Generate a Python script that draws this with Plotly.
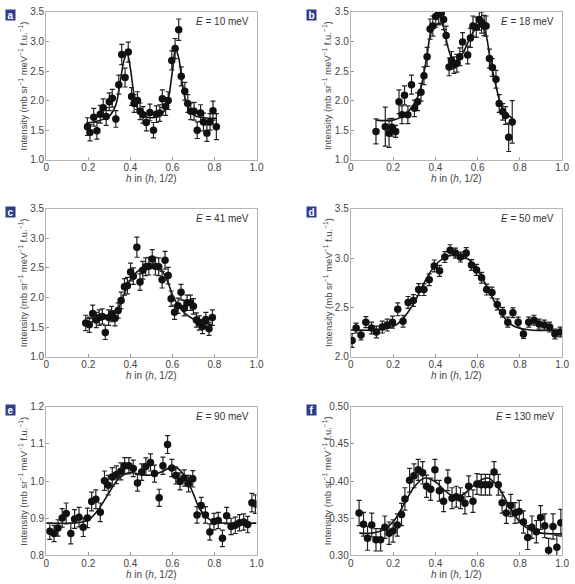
import plotly.graph_objects as go

# ---------------- data ----------------
a_x = [0.196,0.208,0.226,0.241,0.257,0.271,0.285,0.300,0.314,0.331,0.345,0.359,0.375,0.390,0.406,0.418,0.434,0.446,0.460,0.476,0.493,0.510,0.524,0.540,0.552,0.568,0.580,0.597,0.613,0.630,0.642,0.659,0.673,0.687,0.703,0.718,0.734,0.748,0.764,0.779,0.793,0.809]
a_y = [1.56,1.46,1.72,1.49,1.77,1.88,1.73,1.98,2.04,1.69,2.27,2.78,2.39,2.82,2.07,1.95,2.00,1.82,1.76,1.63,1.80,1.50,1.77,1.79,2.03,1.90,2.00,2.68,2.88,3.20,2.41,2.16,1.95,1.82,1.82,1.50,1.79,1.64,1.45,1.64,1.83,1.56]
a_e = [0.15,0.14,0.15,0.14,0.15,0.15,0.15,0.15,0.15,0.14,0.16,0.17,0.16,0.17,0.15,0.15,0.15,0.14,0.14,0.14,0.14,0.13,0.14,0.14,0.15,0.15,0.15,0.16,0.17,0.18,0.16,0.15,0.15,0.14,0.15,0.14,0.14,0.15,0.14,0.14,0.16,0.22]
a_fx = [0.19,0.25,0.30,0.33,0.35,0.37,0.385,0.40,0.42,0.44,0.47,0.50,0.53,0.56,0.58,0.60,0.615,0.63,0.65,0.67,0.70,0.75,0.81]
a_fy = [1.62,1.66,1.74,1.92,2.28,2.68,2.80,2.55,2.05,1.82,1.73,1.71,1.73,1.82,2.02,2.50,2.87,2.72,2.22,1.92,1.76,1.71,1.70]

b_x = [0.119,0.163,0.181,0.194,0.212,0.228,0.242,0.254,0.270,0.287,0.301,0.316,0.332,0.346,0.361,0.375,0.388,0.402,0.416,0.428,0.439,0.451,0.465,0.476,0.488,0.502,0.516,0.529,0.553,0.566,0.578,0.594,0.608,0.619,0.631,0.640,0.656,0.670,0.687,0.702,0.719,0.732,0.747,0.764]
b_y = [1.48,1.56,1.45,1.55,1.48,1.98,1.76,2.09,1.76,2.27,1.87,1.98,2.14,2.42,2.74,3.21,3.26,3.42,3.46,3.48,3.37,3.10,2.57,2.68,2.60,2.63,2.74,2.99,2.77,3.06,3.26,3.24,3.37,3.32,3.27,3.26,2.71,2.56,2.36,1.95,1.81,1.75,1.38,1.64]
b_e = [0.21,0.33,0.24,0.15,0.10,0.20,0.15,0.16,0.15,0.16,0.14,0.15,0.15,0.15,0.16,0.17,0.17,0.18,0.18,0.18,0.17,0.16,0.15,0.15,0.14,0.15,0.15,0.16,0.15,0.16,0.17,0.17,0.18,0.18,0.17,0.17,0.16,0.15,0.15,0.15,0.14,0.15,0.24,0.36]
b_fx = [0.12,0.20,0.25,0.30,0.33,0.36,0.38,0.41,0.43,0.46,0.48,0.50,0.53,0.57,0.60,0.63,0.66,0.69,0.72,0.765]
b_fy = [1.67,1.67,1.75,1.95,2.20,2.75,3.15,3.30,3.30,2.90,2.70,2.65,2.80,3.10,3.25,3.20,2.70,2.20,1.85,1.70]

c_x = [0.188,0.205,0.221,0.238,0.252,0.267,0.281,0.297,0.311,0.327,0.342,0.356,0.372,0.386,0.401,0.414,0.431,0.446,0.459,0.473,0.488,0.504,0.519,0.535,0.551,0.565,0.580,0.594,0.610,0.627,0.641,0.656,0.670,0.686,0.700,0.714,0.728,0.743,0.759,0.774,0.790]
c_y = [1.57,1.54,1.73,1.62,1.66,1.68,1.41,1.66,1.72,1.65,1.78,1.95,2.18,2.20,2.43,2.36,2.85,2.26,2.46,2.52,2.53,2.65,2.53,2.52,2.30,2.63,2.37,1.98,1.75,1.86,2.09,1.82,1.91,1.91,1.85,1.62,1.57,1.51,1.63,1.47,1.66]
c_e = [0.13,0.13,0.14,0.13,0.13,0.13,0.12,0.13,0.13,0.13,0.13,0.14,0.14,0.14,0.15,0.14,0.17,0.14,0.15,0.15,0.15,0.16,0.15,0.15,0.14,0.15,0.14,0.13,0.12,0.13,0.13,0.13,0.13,0.13,0.13,0.12,0.12,0.12,0.12,0.11,0.13]
c_fx = [0.19,0.25,0.31,0.34,0.37,0.40,0.43,0.46,0.50,0.54,0.57,0.60,0.63,0.67,0.72,0.79]
c_fy = [1.65,1.65,1.68,1.80,2.05,2.30,2.43,2.50,2.52,2.49,2.33,2.05,1.85,1.70,1.60,1.54]

d_x = [0.006,0.025,0.048,0.071,0.098,0.121,0.149,0.172,0.197,0.222,0.247,0.271,0.296,0.321,0.346,0.371,0.395,0.420,0.445,0.470,0.495,0.519,0.546,0.571,0.595,0.619,0.643,0.668,0.693,0.718,0.743,0.767,0.792,0.817,0.842,0.867,0.891,0.916,0.941,0.966,0.991]
d_y = [2.165,2.29,2.22,2.35,2.29,2.25,2.30,2.32,2.35,2.48,2.36,2.55,2.57,2.68,2.68,2.78,2.92,2.87,3.01,3.08,3.05,3.01,3.05,2.93,2.88,2.80,2.68,2.65,2.53,2.45,2.35,2.445,2.35,2.23,2.35,2.37,2.33,2.32,2.30,2.23,2.25]
d_e = [0.07,0.05,0.05,0.055,0.06,0.06,0.06,0.06,0.06,0.065,0.06,0.06,0.06,0.06,0.06,0.06,0.06,0.055,0.055,0.055,0.05,0.05,0.055,0.055,0.055,0.055,0.055,0.055,0.055,0.05,0.05,0.05,0.05,0.045,0.05,0.05,0.05,0.05,0.05,0.05,0.05]
d_fx = [0.0,0.10,0.18,0.22,0.26,0.30,0.34,0.38,0.42,0.46,0.50,0.54,0.58,0.62,0.66,0.70,0.74,0.78,0.85,0.92,1.0]
d_fy = [2.27,2.27,2.29,2.33,2.42,2.55,2.72,2.87,2.97,3.02,3.03,3.01,2.94,2.81,2.64,2.48,2.36,2.30,2.27,2.265,2.265]

e_x = [0.017,0.037,0.056,0.076,0.095,0.117,0.135,0.156,0.176,0.196,0.216,0.236,0.257,0.277,0.295,0.314,0.333,0.355,0.373,0.393,0.414,0.434,0.454,0.474,0.496,0.515,0.537,0.555,0.577,0.597,0.616,0.636,0.656,0.677,0.697,0.717,0.737,0.757,0.778,0.798,0.818,0.838,0.858,0.879,0.899,0.919,0.939,0.958,0.978,0.995]
e_y = [0.865,0.859,0.874,0.901,0.913,0.859,0.898,0.903,0.876,0.901,0.945,0.951,0.916,1.001,0.989,1.011,1.017,1.026,1.041,1.041,1.034,0.995,1.024,1.039,1.050,1.020,0.955,1.041,1.098,1.035,1.015,0.999,1.008,0.993,1.006,0.909,0.934,0.909,0.863,0.891,0.894,0.846,0.907,0.878,0.881,0.888,0.890,0.883,0.942,0.938]
e_e = [0.022,0.022,0.022,0.025,0.028,0.028,0.025,0.026,0.025,0.026,0.025,0.025,0.025,0.026,0.026,0.025,0.024,0.023,0.022,0.022,0.022,0.022,0.022,0.023,0.023,0.023,0.023,0.023,0.024,0.023,0.023,0.023,0.022,0.022,0.022,0.022,0.022,0.022,0.022,0.022,0.022,0.022,0.022,0.022,0.022,0.022,0.022,0.022,0.025,0.025]
e_fx = [0.0,0.15,0.20,0.25,0.30,0.35,0.40,0.45,0.50,0.55,0.60,0.63,0.67,0.70,0.73,0.77,0.80,0.85,1.0]
e_fy = [0.887,0.888,0.895,0.925,0.970,1.010,1.023,1.017,1.016,1.025,1.038,1.032,1.002,0.965,0.925,0.900,0.890,0.887,0.887]

f_x = [0.039,0.060,0.079,0.099,0.119,0.141,0.161,0.181,0.200,0.220,0.240,0.256,0.278,0.299,0.319,0.340,0.358,0.378,0.398,0.419,0.439,0.459,0.479,0.499,0.519,0.540,0.558,0.578,0.597,0.617,0.637,0.657,0.678,0.698,0.716,0.736,0.757,0.777,0.797,0.817,0.837,0.857,0.878,0.898,0.918,0.936,0.957,0.975,0.994]
f_y = [0.357,0.342,0.323,0.341,0.321,0.321,0.338,0.330,0.333,0.341,0.355,0.376,0.401,0.407,0.415,0.411,0.393,0.389,0.415,0.387,0.373,0.401,0.377,0.379,0.377,0.370,0.393,0.373,0.396,0.395,0.395,0.395,0.412,0.395,0.371,0.357,0.367,0.357,0.359,0.345,0.324,0.338,0.332,0.351,0.340,0.307,0.339,0.311,0.344]
f_e = [0.017,0.016,0.016,0.016,0.015,0.015,0.015,0.015,0.015,0.015,0.015,0.015,0.016,0.016,0.014,0.015,0.015,0.015,0.014,0.014,0.014,0.014,0.014,0.014,0.014,0.014,0.014,0.015,0.014,0.014,0.014,0.014,0.014,0.014,0.014,0.014,0.015,0.014,0.015,0.015,0.016,0.015,0.015,0.016,0.016,0.016,0.017,0.016,0.018]
f_fx = [0.04,0.10,0.15,0.20,0.25,0.30,0.35,0.40,0.45,0.50,0.55,0.60,0.65,0.70,0.75,0.80,0.85,0.90,1.0]
f_fy = [0.330,0.330,0.334,0.345,0.368,0.392,0.404,0.399,0.386,0.378,0.386,0.399,0.404,0.391,0.366,0.345,0.334,0.330,0.329]

panels = [
    ("a", "10", a_x, a_y, a_e, a_fx, a_fy, [1.0, 3.5], [1.0, 1.5, 2.0, 2.5, 3.0, 3.5], ".1f"),
    ("b", "18", b_x, b_y, b_e, b_fx, b_fy, [1.0, 3.5], [1.0, 1.5, 2.0, 2.5, 3.0, 3.5], ".1f"),
    ("c", "41", c_x, c_y, c_e, c_fx, c_fy, [1.0, 3.5], [1.0, 1.5, 2.0, 2.5, 3.0, 3.5], ".1f"),
    ("d", "50", d_x, d_y, d_e, d_fx, d_fy, [2.0, 3.5], [2.0, 2.5, 3.0, 3.5], ".1f"),
    ("e", "90", e_x, e_y, e_e, e_fx, e_fy, [0.8, 1.2], [0.8, 0.9, 1.0, 1.1, 1.2], ".1f"),
    ("f", "130", f_x, f_y, f_e, f_fx, f_fy, [0.30, 0.50], [0.30, 0.35, 0.40, 0.45, 0.50], ".2f"),
]
x_tickvals = [0, 0.2, 0.4, 0.6, 0.8, 1.0]
x_ticktext = ["0", "0.2", "0.4", "0.6", "0.8", "1.0"]

# ---------------- layout geometry (pixels) ----------------
W, H = 575, 584
cols = [(44, 258), (354, 569)]
rows = [(6, 157), (207, 358), (409, 561)]

FONT = "Liberation Sans Narrow, Liberation Sans, Arial, sans-serif"
fig = go.Figure()
layout = dict(width=W, height=H, margin=dict(l=0, r=0, t=0, b=0),
              paper_bgcolor="white", plot_bgcolor="white", showlegend=False,
              font=dict(family=FONT, color="#333333", size=10))
annotations = []

for i, (lab, en, x, y, e, fx, fy, yr, yt, yfmt) in enumerate(panels):
    r, c = divmod(i, 2)
    x0, x1 = cols[c]
    y0, y1 = rows[r]
    n = i + 1
    xa = "x" if n == 1 else f"x{n}"
    ya = "y" if n == 1 else f"y{n}"
    layout["xaxis" if n == 1 else f"xaxis{n}"] = dict(
        domain=[x0 / W, x1 / W], range=[0, 1], anchor=ya,
        tickvals=x_tickvals, ticktext=x_ticktext, ticks="inside", ticklen=3,
        tickcolor="#999999", showline=True, linecolor="#b5b5b5", linewidth=1.2,
        mirror=True, showgrid=False, zeroline=False, ticklabelstandoff=-2,
        tickfont=dict(size=10, color="#444444"))
    layout["yaxis" if n == 1 else f"yaxis{n}"] = dict(
        domain=[1 - y1 / H, 1 - y0 / H], range=yr, anchor=xa,
        tickvals=yt, tickformat=yfmt, ticks="inside", ticklen=3,
        tickcolor="#999999", showline=True, linecolor="#b5b5b5", linewidth=1.2,
        mirror=True, showgrid=False, zeroline=False, ticklabelstandoff=-1,
        tickfont=dict(size=10, color="#444444"))
    # fit line
    fig.add_trace(go.Scatter(x=fx, y=fy, mode="lines", line=dict(color="#111111", width=1.6),
                             xaxis=xa, yaxis=ya, line_shape="spline"))
    # data points with error bars
    fig.add_trace(go.Scatter(x=x, y=y, mode="markers",
                             marker=dict(color="#111111", size=7.5),
                             error_y=dict(type="data", array=e, visible=True,
                                          color="#222222", thickness=1.2, width=2.5),
                             xaxis=xa, yaxis=ya))
    # panel label
    ax_px = 7.5 if c == 0 else 313.5
    ay_px = y0 + 3
    annotations.append(dict(x=ax_px / W, y=1 - ay_px / H, xref="paper", yref="paper",
                            text=f"<b>{lab}</b>", showarrow=False, width=9, height=10,
                            borderpad=0, bgcolor="#2e3d8c",
                            font=dict(color="white", size=10, family="Liberation Sans, Arial, sans-serif"),
                            xanchor="center", yanchor="middle"))
    # energy label
    annotations.append(dict(x=(x1 - 6) / W, y=1 - (y0 + 10) / H, xref="paper", yref="paper",
                            text=f"<i>E</i> = {en} meV", showarrow=False,
                            xanchor="right", yanchor="middle",
                            font=dict(size=10, color="#333333")))
    # x-axis title
    annotations.append(dict(x=(x0 + x1) / 2 / W, y=1 - (y1 + 19) / H, xref="paper", yref="paper",
                            text="<i>h</i> in (<i>h</i>, 1/2)", showarrow=False,
                            xanchor="center", yanchor="middle",
                            font=dict(size=10, color="#444444")))
    # y-axis title
    annotations.append(dict(x=(x0 - 24) / W, y=1 - (y0 + y1) / 2 / H, xref="paper", yref="paper",
                            text="Intensity (mb sr<sup>−1</sup> meV<sup>−1</sup> f.u.<sup>−1</sup>)",
                            showarrow=False, textangle=-90,
                            xanchor="center", yanchor="middle",
                            font=dict(size=9.5, color="#444444")))

layout["annotations"] = annotations
fig.update_layout(**layout)
fig.write_html("out.html", config={"displayModeBar": False},
               post_script="document.body.style.margin='0';document.body.style.padding='0';")
